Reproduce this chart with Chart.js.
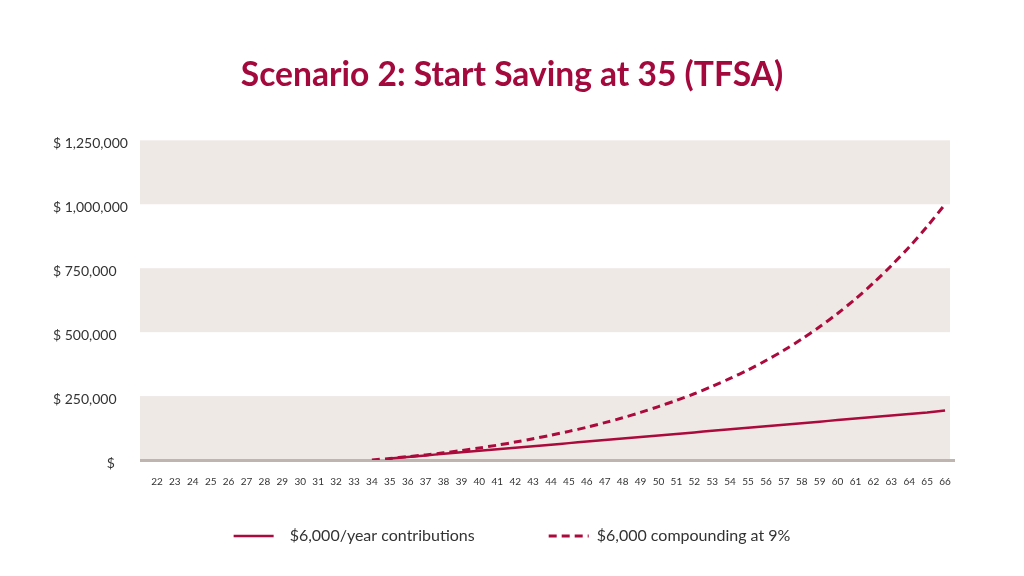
<!DOCTYPE html>
<html>
<head>
<meta charset="utf-8">
<script src="https://cdn.jsdelivr.net/npm/chart.js@4"></script>
<style>
  html, body { margin: 0; padding: 0; background: #fff; }
  #wrap { width: 1024px; height: 576px; position: relative; }
</style>
</head>
<body>
<div id="wrap"><canvas id="chart"></canvas></div>
<script>
const ages = [22, 23, 24, 25, 26, 27, 28, 29, 30, 31, 32, 33, 34, 35, 36, 37, 38, 39, 40, 41, 42, 43, 44,
  45, 46, 47, 48, 49, 50, 51, 52, 53, 54, 55, 56, 57, 58, 59, 60, 61, 62, 63, 64, 65, 66];

// $6,000/year contributions (starts at 35)
const contributions = [null, null, null, null, null, null, null, null, null, null, null, null, null,
  6000, 12000, 18000, 24000, 30000, 36000, 42000, 48000, 54000, 60000, 66000, 72000, 78000, 84000,
  90000, 96000, 102000, 108000, 114000, 120000, 126000, 132000, 138000, 144000, 150000, 156000,
  162000, 168000, 174000, 180000, 186000, 194000];

// $6,000 compounding at 9%
const compounding = [null, null, null, null, null, null, null, null, null, null, null, null,
  0, 6000, 13000, 20000, 28000, 37000, 47000, 58000, 70000, 83000, 97000, 112000, 128000, 146000,
  165000, 186000, 209000, 233000, 259000, 288000, 319000, 352000, 389000, 429000, 473000, 521000,
  573000, 630000, 692000, 760000, 833000, 913000, 1000000];

const yTicks = [0, 250000, 500000, 750000, 1000000, 1250000];

const red = '#ab0a3d';
const font = 'Lato, "Open Sans", sans-serif';

const bands = {
  id: 'bands',
  beforeDatasetsDraw(chart) {
    const { ctx, chartArea, scales } = chart;
    const y = scales.y;
    const left = chartArea.left - 8;
    const right = chartArea.right - 4;
    ctx.save();
    ctx.fillStyle = '#efe9e6';
    for (let i = 0; i < yTicks.length - 1; i += 2) {
      const top = y.getPixelForValue(yTicks[i + 1]);
      const bottom = y.getPixelForValue(yTicks[i]);
      ctx.fillRect(left, top, right - left, bottom - top);
    }
    // bottom axis line
    ctx.fillStyle = '#bfb5b0';
    const y0 = y.getPixelForValue(0);
    ctx.fillRect(left, y0 - 1, chartArea.right + 1 - left, 3);
    ctx.restore();
  }
};

new Chart('chart', {
  type: 'line',
  data: {
    labels: ages,
    datasets: [
      {
        label: '$6,000/year contributions',
        data: contributions,
        borderColor: red,
        backgroundColor: red,
        borderWidth: 2.5,
        pointRadius: 0,
        tension: 0.2,
        fill: false,
      },
      {
        label: '$6,000 compounding at 9%',
        data: compounding,
        borderColor: red,
        backgroundColor: red,
        borderWidth: 3,
        borderDash: [8, 5],
        pointRadius: 0,
        tension: 0.3,
        fill: false,
      },
    ],
  },
  options: {
    responsive: true,
    maintainAspectRatio: false,
    animation: false,
    layout: { padding: { left: 53, right: 53, bottom: 22 } },
    plugins: {
      title: {
        display: true,
        text: 'Scenario 2: Start Saving at 35 (TFSA)',
        color: '#a3093c',
        font: { family: font, size: 33.6, weight: 'bold' },
        padding: { top: 55, bottom: 45 },
      },
      legend: {
        position: 'bottom',
        labels: {
          color: '#333',
          font: { family: font, size: 16 },
          usePointStyle: true,
          pointStyle: 'line',
          pointStyleWidth: 40,
          boxHeight: 14,
          padding: 24,
          // line samples follow the dataset styles, with some room round the texts
          generateLabels(chart) {
            const items = Chart.defaults.plugins.legend.labels.generateLabels(chart);
            items.forEach((item, i) => {
              const ds = chart.data.datasets[i];
              item.lineDash = ds.borderDash || [];
              item.lineWidth = ds.borderWidth;
              item.strokeStyle = ds.borderColor;
              if (i === 0) item.text = '\u2002' + item.text + '\u2003\u2003\u2003\u2003\u2009';
            });
            return items;
          },
        },
      },
      tooltip: { enabled: false },
    },
    scales: {
      x: {
        offset: true,
        grid: { display: false, drawTicks: false },
        border: { display: false },
        ticks: {
          color: '#333',
          font: { family: font, size: 10 },
          autoSkip: false,
          maxRotation: 0,
          padding: 16,
        },
      },
      y: {
        min: 0,
        max: 1250000,
        afterFit(scale) { scale.width = 95; },
        afterBuildTicks(scale) { scale.ticks = yTicks.map((v) => ({ value: v })); },
        grid: { display: false, drawTicks: false },
        border: { display: false },
        ticks: {
          color: '#333',
          font: { family: font, size: 14 },
          crossAlign: 'far',
          labelOffset: 3,
          callback: (v) => (v === 0 ? '               $' : '$ ' + v.toLocaleString('en-US')),
        },
      },
      // empty right margin so the title and legend stay centred on the page
      yRight: {
        position: 'right',
        afterFit(scale) { scale.width = 17; },
        grid: { display: false, drawTicks: false },
        border: { display: false },
        ticks: { display: false },
      },
    },
  },
  plugins: [bands],
});
</script>
</body>
</html>
